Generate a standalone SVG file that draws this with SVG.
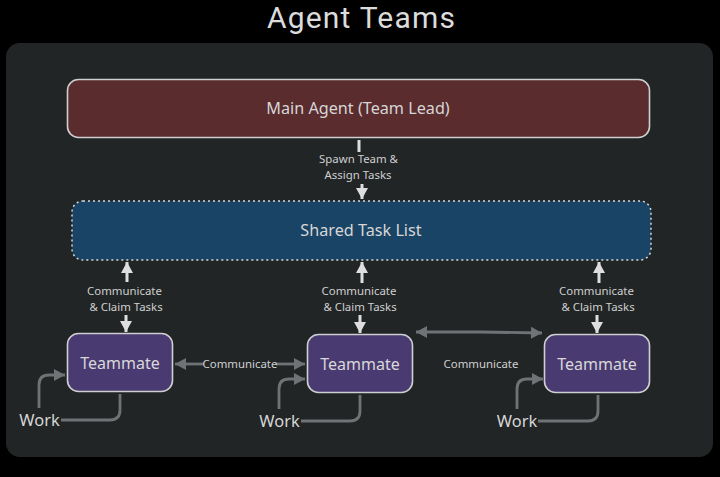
<svg xmlns="http://www.w3.org/2000/svg" width="720" height="477" viewBox="0 0 720 477">
<style>
text{font-family:"Noto Sans","Open Sans","Liberation Sans",sans-serif;text-anchor:middle}
.title{font-family:Roboto,"Noto Sans",sans-serif;font-size:30px;fill:#dcdcdc;letter-spacing:1.2px}
.big{font-size:16.200px;fill:#d6d6d6}
.mate{font-size:16px;fill:#d8d8d8}
.small{font-size:11.400px;fill:#cfcfcf}
.work{font-size:16.400px;fill:#d6d6d6}
.box{stroke:#cfcfcf;stroke-width:1.6}
.w{fill:none;stroke:#dedede;stroke-width:3}
.g{fill:none;stroke:#6f7375;stroke-width:2.800}
</style>
<defs>
<marker id="aw" markerUnits="userSpaceOnUse" markerWidth="12" markerHeight="12" refX="10" refY="6" orient="auto-start-reverse" overflow="visible"><path d="M-1 0L10 6L-1 12Z" fill="#dedede"/></marker>
<marker id="ag" markerUnits="userSpaceOnUse" markerWidth="12" markerHeight="12" refX="10" refY="6" orient="auto-start-reverse" overflow="visible"><path d="M-1 0L10 6L-1 12Z" fill="#6f7375"/></marker>
</defs>
<rect width="720" height="477" fill="#000"/>
<text class="title" x="361.500" y="28">Agent Teams</text>
<rect x="6" y="43" width="707" height="414" rx="14" fill="#212526"/>
<g id="connectors">
<path class="w" d="M359 140V152"/>
<path class="w" d="M362 184V199" marker-end="url(#aw)"/>
<path class="w" d="M127 282V262" marker-end="url(#aw)"/>
<path class="w" d="M126 315V332" marker-end="url(#aw)"/>
<path class="w" d="M362 283V262" marker-end="url(#aw)"/>
<path class="w" d="M360 315V333" marker-end="url(#aw)"/>
<path class="w" d="M599 283V262" marker-end="url(#aw)"/>
<path class="w" d="M597 315V333" marker-end="url(#aw)"/>
<path class="g" d="M204 364H175" marker-end="url(#ag)"/>
<path class="g" d="M276 364H305" marker-end="url(#ag)"/>
<path class="g" d="M416 332H480L542 333" marker-start="url(#ag)" marker-end="url(#ag)"/>
<path class="g" d="M39 408V385Q39 375 49 375H65" marker-end="url(#ag)"/>
<path class="g" d="M61 420H110Q120 420 120 410V394"/>
<path class="g" d="M279 409V389Q279 379 289 379H305" marker-end="url(#ag)"/>
<path class="g" d="M301 421H350Q360 421 360 411V395"/>
<path class="g" d="M517 409V389Q517 379 527 379H543" marker-end="url(#ag)"/>
<path class="g" d="M538 421H588Q598 421 598 411V395"/>
</g>
<g id="main-agent">
<rect class="box" x="67.500" y="79.500" width="582" height="58" rx="11" fill="#5a2c2e"/>
<text class="big" x="358" y="114">Main Agent (Team Lead)</text>
</g>
<g id="task-list">
<rect x="72" y="201" width="579" height="59" rx="11" fill="#1a4465" stroke="#d8d8d8" stroke-width="1.500" stroke-dasharray="2 3"/>
<text class="big" x="361" y="235.500">Shared Task List</text>
</g>
<g id="teammate-1">
<rect class="box" x="67.500" y="333.500" width="105" height="58" rx="11" fill="#4a3a72"/>
<text class="mate" x="120" y="368.500">Teammate</text>
</g>
<g id="teammate-2">
<rect class="box" x="307.500" y="334.500" width="105" height="58" rx="11" fill="#4a3a72"/>
<text class="mate" x="360" y="369.500">Teammate</text>
</g>
<g id="teammate-3">
<rect class="box" x="544.500" y="334.500" width="105" height="58" rx="11" fill="#4a3a72"/>
<text class="mate" x="597" y="369.500">Teammate</text>
</g>
<g id="labels">
<text class="small" x="358.500" y="163">Spawn Team &amp;</text>
<text class="small" x="358" y="179">Assign Tasks</text>
<text class="small" x="124.500" y="295">Communicate</text>
<text class="small" x="126" y="311">&amp; Claim Tasks</text>
<text class="small" x="359" y="295">Communicate</text>
<text class="small" x="360" y="311">&amp; Claim Tasks</text>
<text class="small" x="596.500" y="295">Communicate</text>
<text class="small" x="598" y="311">&amp; Claim Tasks</text>
<text class="small" x="240" y="368">Communicate</text>
<text class="small" x="481" y="368">Communicate</text>
<text class="work" x="39.500" y="426">Work</text>
<text class="work" x="279.500" y="427">Work</text>
<text class="work" x="517" y="427">Work</text>
</g>
</svg>
